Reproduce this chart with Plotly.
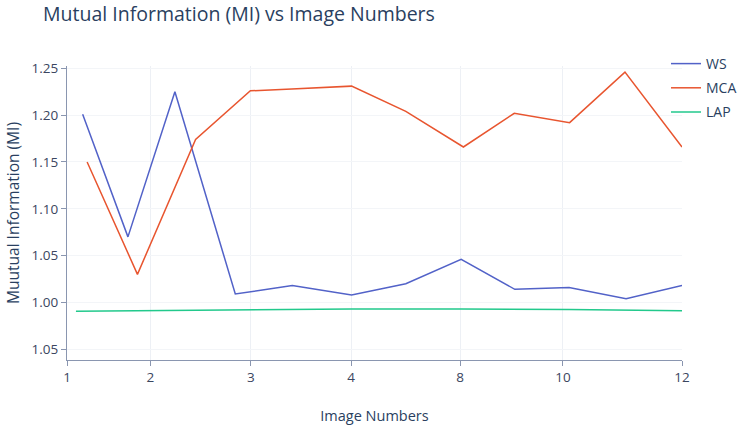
import plotly.graph_objects as go

# Data
ws_x = [1.28, 2.09, 2.93, 4.01, 5.03, 6.09, 7.06, 8.05, 9.01, 9.98, 11.0, 12.0]
ws_y = [1.201, 1.070, 1.225, 1.009, 1.018, 1.008, 1.020, 1.046, 1.014, 1.016, 1.004, 1.018]

mca_x = [1.36, 2.26, 3.30, 4.28, 5.02, 6.09, 7.06, 8.09, 9.00, 9.99, 10.98, 12.0]
mca_y = [1.150, 1.030, 1.174, 1.226, 1.228, 1.231, 1.204, 1.166, 1.202, 1.192, 1.246, 1.166]

lap_x = [1.16, 4.28, 6.09, 8.05, 9.98, 12.02]
lap_y = [0.9905, 0.9920, 0.9930, 0.9930, 0.9925, 0.9910]

x_tickvals = [1.0, 2.49, 4.29, 6.08, 8.03, 9.87, 12.0]
x_ticktext = ["1", "2", "3", "4", "8", "10", "12"]

y_tickvals = [1.25, 1.20, 1.15, 1.10, 1.05, 1.00, 0.95]
y_ticktext = ["1.25", "1.20", "1.15", "1.10", "1.05", "1.00", "1.05"]

fig = go.Figure()
fig.add_trace(go.Scatter(x=ws_x, y=ws_y, mode="lines", name="WS", legendgroup="a",
                         line=dict(color="#5262c8", width=1.5)))
fig.add_trace(go.Scatter(x=mca_x, y=mca_y, mode="lines", name="MCA", legendgroup="b",
                         line=dict(color="#e8552f", width=1.5)))
fig.add_trace(go.Scatter(x=lap_x, y=lap_y, mode="lines", name="LAP", legendgroup="c",
                         line=dict(color="#22c98c", width=1.5)))

axis_font = dict(family="Open Sans", size=13.5, color="#3b4660")

fig.update_layout(
    width=754, height=428,
    template="plotly_white",
    paper_bgcolor="white", plot_bgcolor="white",
    margin=dict(l=67, r=72, t=66, b=68, autoexpand=False),
    title=dict(text="Mutual Information (MI) vs Image Numbers",
               xref="container", yref="container",
               x=43 / 754, xanchor="left", y=1 - 14 / 428, yanchor="middle",
               font=dict(family="Open Sans", size=19.5, color="#2a3f5f")),
    font=dict(family="Open Sans", color="#2a3f5f"),
    legend=dict(xref="container", yref="container",
                x=666 / 754, xanchor="left", y=1 - 48 / 428, yanchor="top",
                font=dict(family="Open Sans", size=14, color="#2a3f5f"),
                tracegroupgap=3, itemwidth=30, bgcolor="rgba(0,0,0,0)"),
    showlegend=True,
)

fig.update_xaxes(
    range=[1, 12], automargin=False,
    tickmode="array", tickvals=x_tickvals, ticktext=x_ticktext,
    showline=True, linecolor="#8a96b0", linewidth=1,
    ticks="outside", tickcolor="#8a96b0", ticklen=5,
    showgrid=True, gridcolor="#edf0f5",
    zeroline=False,
    tickfont=axis_font,
    title=dict(text="Image Numbers", font=dict(family="Open Sans", size=14.5, color="#2a3f5f"),
               standoff=25),
)
fig.update_yaxes(
    range=[0.9385, 1.2525], automargin=False,
    tickmode="array", tickvals=y_tickvals, ticktext=y_ticktext,
    showline=True, linecolor="#8a96b0", linewidth=1,
    ticks="outside", tickcolor="#8a96b0", ticklen=5,
    showgrid=True, gridcolor="#f3f5f8",
    zeroline=False,
    tickfont=axis_font,
    title=dict(text="Muutual Information (MI)", font=dict(family="Open Sans", size=15.5, color="#2a3f5f"),
               standoff=8),
)

fig.write_html("out.html", config={"displayModeBar": False},
               post_script="document.body.style.margin='0';")
